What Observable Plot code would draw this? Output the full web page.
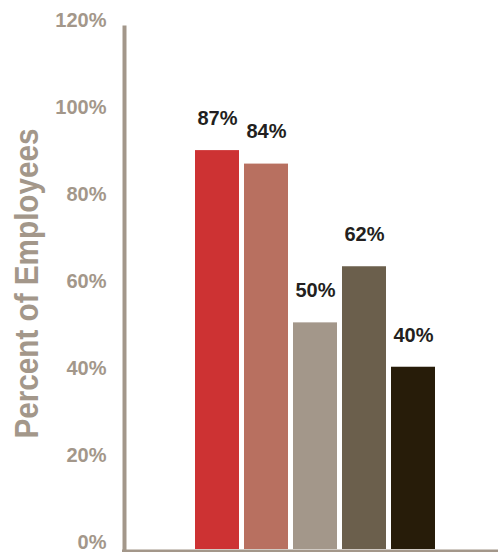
<!DOCTYPE html>
<html>
<head>
<meta charset="utf-8">
<script src="https://cdn.jsdelivr.net/npm/d3@7"></script>
<script src="https://cdn.jsdelivr.net/npm/@observablehq/plot@0.6"></script>
<style>
  html, body { margin: 0; padding: 0; background: #ffffff; }
  #chart { width: 498px; height: 552px; }
</style>
</head>
<body>
<div id="chart"></div>
<script>
// Data
const categories = ["Group 1", "Group 2", "Group 3", "Group 4", "Group 5"];
const barValues = [91.7, 88.6, 52.1, 65.0, 41.9];
const valueLabels = ["87%", "84%", "50%", "62%", "40%"];
const barColors = ["#cd3233", "#b87060", "#a3978a", "#6b5f4c", "#271c09"];
const yTicks = [0, 20, 40, 60, 80, 100, 120];
const yTitle = "Percent of Employees";

const axisColor = "#a3978a";
const font = "'Liberation Sans', Arial, Helvetica, sans-serif";

const rows = categories.map((c, i) => ({
  category: c, value: barValues[i], label: valueLabels[i], color: barColors[i]
}));

const chart = Plot.plot({
  width: 498,
  height: 552,
  marginLeft: 124,
  marginRight: 0,
  marginTop: 27,
  marginBottom: 3,
  style: { fontFamily: font, background: "#ffffff" },
  x: { domain: categories, range: [190.3, 440.4], padding: 0.096, axis: null },
  y: { domain: [0, 120], axis: null },
  color: { type: "identity" },
  marks: [
    Plot.barY(rows, { x: "category", y: "value", fill: "color" }),
    Plot.text(rows, {
      x: "category", y: "value", text: "label", dy: -32,
      fontSize: 20, fontWeight: "bold", fill: "#231f20"
    }),
    Plot.axisY({
      ticks: yTicks, tickSize: 0, tickPadding: 18, label: null,
      tickFormat: d => `${d}%`, fontSize: 20, fontWeight: "bold",
      fill: axisColor, dy: -6.5
    }),
    Plot.frame({ anchor: "left", stroke: axisColor, strokeWidth: 4 }),
    Plot.ruleY([0], { stroke: axisColor, strokeWidth: 3, dy: 1.5, insetLeft: -2 }),
    Plot.text([yTitle], {
      frameAnchor: "left", dx: -96.6, dy: 150, rotate: -90, textAnchor: "start",
      fontSize: 33, fontWeight: "bold", fill: axisColor
    })
  ]
});

document.getElementById("chart").appendChild(chart);

// compress the title to the condensed width seen in the reference
d3.select(chart).selectAll("text").each(function () {
  if (this.textContent === yTitle) {
    this.setAttribute("textLength", 310);
    this.setAttribute("lengthAdjust", "spacingAndGlyphs");
  }
});
</script>
</body>
</html>
